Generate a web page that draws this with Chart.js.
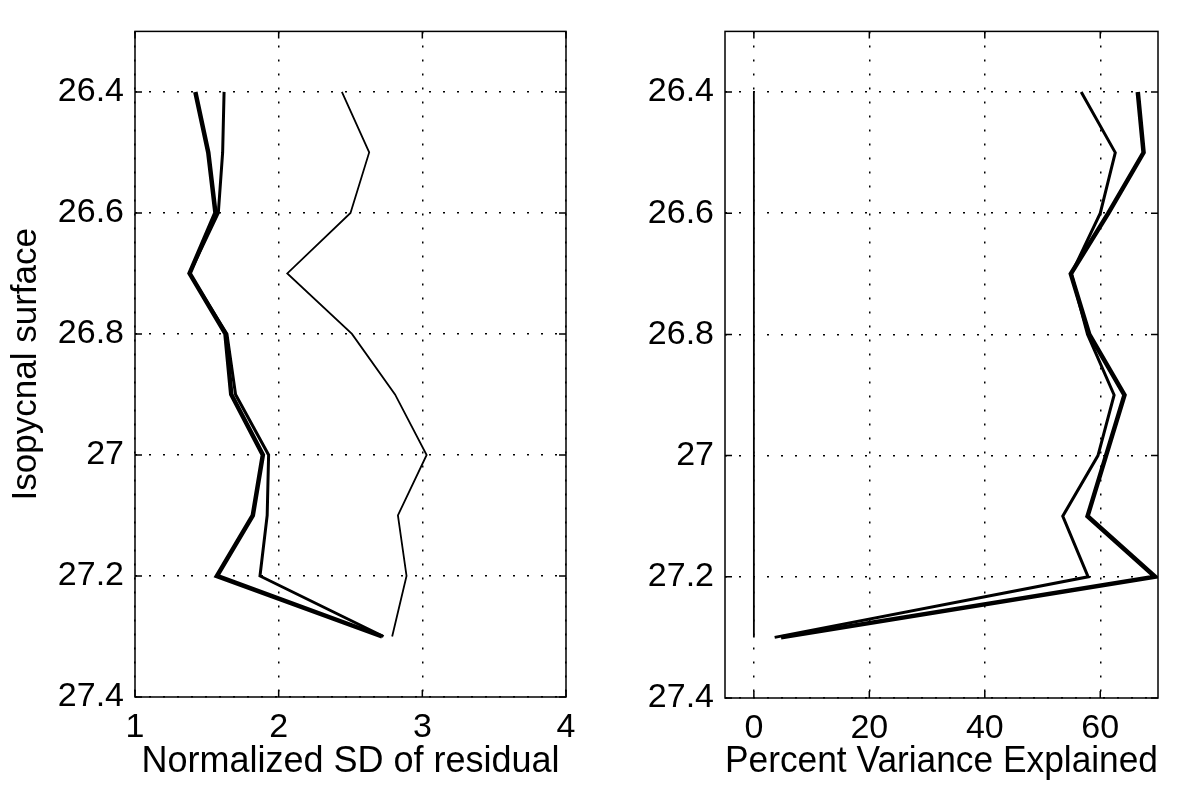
<!DOCTYPE html>
<html>
<head>
<meta charset="utf-8">
<script src="https://cdn.jsdelivr.net/npm/chart.js@4.4.1/dist/chart.umd.min.js"></script>
<style>
  html, body { margin: 0; padding: 0; background: #fff; }
  #wrap { position: relative; width: 1180px; height: 786px; }
  canvas { position: absolute; top: 0; }
  #leftChart { left: 0; }
  #rightChart { left: 590px; }
</style>
</head>
<body>
<div id="wrap">
  <canvas id="leftChart" width="590" height="786"></canvas>
  <canvas id="rightChart" width="590" height="786"></canvas>
</div>
<script>
// isopycnal levels (y values, shared by every line)
const levels = [26.4, 26.5, 26.6, 26.7, 26.8, 26.9, 27.0, 27.1, 27.2, 27.3];

// left panel: normalized SD of residual
const sdThick  = [1.42, 1.51, 1.56, 1.38, 1.63, 1.67, 1.89, 1.82, 1.57, 2.72];
const sdMedium = [1.62, 1.61, 1.58, 1.38, 1.64, 1.70, 1.93, 1.92, 1.87, 2.73];
const sdThin   = [2.44, 2.63, 2.50, 2.06, 2.51, 2.81, 3.03, 2.83, 2.89, 2.79];

// right panel: percent variance explained
const pveThick  = [66.5, 67.5, 61.4, 54.9, 58.1, 64.2, 61.0, 57.8, 69.5, 4.7];
const pveMedium = [56.7, 62.6, 60.0, 55.0, 57.8, 62.4, 59.6, 53.5, 57.9, 3.6];
const pveZero   = [0, 0, 0, 0, 0, 0, 0, 0, 0, 0];

// tick labels
const yTicks = [26.4, 26.6, 26.8, 27.0, 27.2, 27.4];
const sdTicks = [1, 2, 3, 4];
const pveTicks = [0, 20, 40, 60];

Chart.defaults.font.family = "'Liberation Sans', Arial, Helvetica, sans-serif";
Chart.defaults.color = '#000';

// MATLAB style box with inward tick marks
const framePlugin = {
    id: 'frame',
    afterDraw(chart) {
        const { ctx, chartArea: a, scales } = chart;
        ctx.save();
        ctx.strokeStyle = '#000';
        ctx.lineWidth = 1.5;
        ctx.strokeRect(a.left, a.top, a.right - a.left, a.bottom - a.top);
        ctx.beginPath();
        scales.x.ticks.forEach(t => {
            const px = scales.x.getPixelForValue(t.value);
            ctx.moveTo(px, a.bottom); ctx.lineTo(px, a.bottom - 7);
            ctx.moveTo(px, a.top); ctx.lineTo(px, a.top + 7);
        });
        scales.y.ticks.forEach(t => {
            const py = scales.y.getPixelForValue(t.value);
            ctx.moveTo(a.left, py); ctx.lineTo(a.left + 7, py);
            ctx.moveTo(a.right, py); ctx.lineTo(a.right - 7, py);
        });
        ctx.stroke();
        ctx.restore();
    }
};

function pts(xs) {
    return levels.map((y, i) => ({ x: xs[i], y: y }));
}

function lineSet(xs, width) {
    return {
        data: pts(xs),
        showLine: true,
        borderColor: '#000',
        borderWidth: width,
        pointRadius: 0,
        fill: false,
        tension: 0
    };
}

function makeChart(id, datasets, xMin, xMax, xTickList, xTitle, yTitle, pad, xHeight) {
    const ctx = document.getElementById(id).getContext('2d');
    return new Chart(ctx, {
        type: 'scatter',
        data: { datasets: datasets },
        options: {
            responsive: false,
            maintainAspectRatio: false,
            animation: false,
            layout: { padding: pad },
            plugins: {
                legend: { display: false },
                tooltip: { enabled: false }
            },
            scales: {
                x: {
                    type: 'linear',
                    min: xMin,
                    max: xMax,
                    afterBuildTicks: s => { s.ticks = xTickList.map(v => ({ value: v })); },
                    afterFit: s => { s.height = xHeight; },
                    ticks: {
                        font: { size: 34 },
                        padding: 10,
                        maxRotation: 0,
                        callback: v => String(v)
                    },
                    grid: {
                        color: '#000',
                        lineWidth: 1.5,
                        drawTicks: false
                    },
                    border: { display: false, dash: [2, 12] },
                    title: {
                        display: true,
                        text: xTitle,
                        font: { size: 36 },
                        padding: { top: 0, bottom: 2 }
                    }
                },
                y: {
                    type: 'linear',
                    reverse: true,
                    min: 26.3,
                    max: 27.4,
                    afterBuildTicks: s => { s.ticks = yTicks.map(v => ({ value: v })); },
                    afterFit: s => { s.width = 135; },
                    ticks: {
                        font: { size: 34 },
                        padding: 11,
                        callback: v => String(Math.round(v * 10) / 10)
                    },
                    grid: {
                        color: '#000',
                        lineWidth: 1.5,
                        drawTicks: false
                    },
                    border: { display: false, dash: [2, 12] },
                    title: {
                        display: yTitle !== '',
                        text: yTitle,
                        font: { size: 35 },
                        padding: { top: 5, bottom: 0 }
                    }
                }
            }
        },
        plugins: [framePlugin]
    });
}

const leftChart = makeChart('leftChart',
    [lineSet(sdThin, 1.8), lineSet(sdMedium, 3), lineSet(sdThick, 4.5)],
    1, 4, sdTicks, 'Normalized SD of residual', 'Isopycnal surface',
    { top: 8, right: 24, bottom: 0, left: 0 }, 89);

const rightChart = makeChart('rightChart',
    [lineSet(pveZero, 1.8), lineSet(pveMedium, 3), lineSet(pveThick, 4.5)],
    -5, 70, pveTicks, 'Percent Variance Explained', '',
    { top: 12, right: 22, bottom: 0, left: 0 }, 88);
</script>
</body>
</html>
